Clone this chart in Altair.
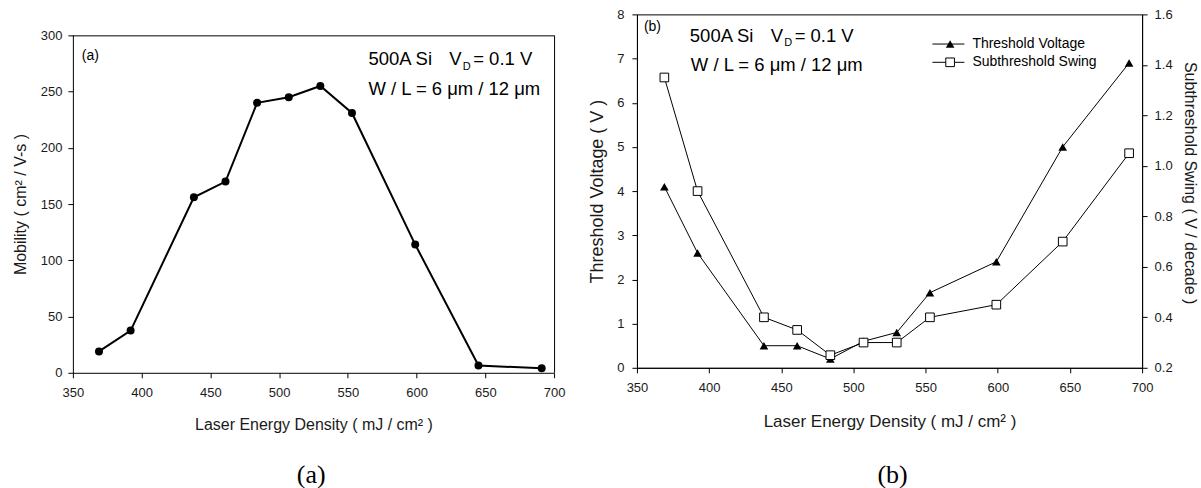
import altair as alt
import pandas as pd

# ---------------- data ----------------
energy = [369, 392, 438, 461, 484, 507, 530, 553, 599, 645, 691]
mobility = [19, 37.5, 156, 170, 240, 245, 255, 231, 114, 6.5, 4]
threshold_voltage = [4.1, 2.6, 0.5, 0.5, 0.2, 0.6, 0.8, 1.7, 2.4, 5.0, 6.9]
subthreshold_swing = [1.35, 0.9, 0.4, 0.35, 0.25, 0.3, 0.3, 0.4, 0.45, 0.7, 1.05]
x_tick_values = [350, 400, 450, 500, 550, 600, 650, 700]
mobility_ticks = [0, 50, 100, 150, 200, 250, 300]
vth_ticks = [0, 1, 2, 3, 4, 5, 6, 7, 8]
swing_ticks = [0.2, 0.4, 0.6, 0.8, 1.0, 1.2, 1.4, 1.6]
legend_names = ["Threshold Voltage", "Subthreshold Swing"]

SANS = "Liberation Sans"
SERIF = "Liberation Serif"
INK = "#000000"
LABEL = "#1a1a1a"

# ---------------- layout ----------------
# both panels share the same origin row (y = 13); panel (a) plot starts 21px lower
TOP = 13
A_OFF = 21
W_A, H_A, OX_A = 482, 359, 73
W_B, H_B, OX_B = 506, 354, 637
SPLIT = 580
TOTAL_W, TOTAL_H = 1201, 488

df_a = pd.DataFrame({"energy": energy, "mobility": mobility})
df_b = pd.DataFrame({"energy": energy, "vth": threshold_voltage,
                     "swing": subthreshold_swing})


def axis_common(**kw):
    base = dict(domainColor=INK, domainWidth=1, tickColor=INK, tickSize=5,
                tickWidth=1, labelFont=SANS, labelFontSize=13, labelColor=LABEL,
                labelFlush=False, labelOverlap=False, titleFont=SANS,
                titleFontSize=16, titleFontWeight="normal", titleColor=LABEL,
                titleAlign="center", titleBaseline="middle", grid=False)
    base.update(kw)
    return alt.Axis(**base)


def x_enc(width, title_y, title_size):
    return alt.X("energy:Q",
                 scale=alt.Scale(domain=[350, 700], nice=False, zero=False),
                 axis=axis_common(values=x_tick_values,
                                  title="Laser Energy Density ( mJ / cm² )",
                                  labelPadding=9, titleAngle=0,
                                  titleFontSize=title_size,
                                  titleX=width / 2, titleY=title_y))


def text_layer(txt, x, y, size=18.5, font=SANS, align="left",
               baseline="alphabetic"):
    return alt.Chart(pd.DataFrame({"t": [txt]})).mark_text(
        font=font, fontSize=size, align=align, baseline=baseline, color=INK
    ).encode(x=alt.value(x), y=alt.value(y), text="t:N")


def spacer(x1, y1, x2, y2):
    return alt.Chart(pd.DataFrame({"k": [0]})).mark_rule(
        opacity=0, strokeOpacity=0
    ).encode(x=alt.value(x1), x2=alt.value(x2), y=alt.value(y1),
             y2=alt.value(y2))


def frame_rule(x1, y1, x2, y2):
    return alt.Chart(pd.DataFrame({"k": [0]})).mark_rule(
        color=INK, strokeWidth=1
    ).encode(x=alt.value(x1), x2=alt.value(x2), y=alt.value(y1),
             y2=alt.value(y2))


# ---------------- panel (a) ----------------
xa = x_enc(W_A, 51.5, 16)
ya = alt.Y("mobility:Q",
           scale=alt.Scale(domain=[0, 300], nice=False, zero=False,
                           range=[H_A, A_OFF]),
           axis=axis_common(values=mobility_ticks, title="Mobility ( cm² / V-s )",
                            labelPadding=6, titleAngle=-90, titleX=-52,
                            titleY=(H_A + A_OFF) / 2))
base_a = alt.Chart(df_a)
line_a = base_a.mark_line(color=INK, strokeWidth=2).encode(x=xa, y=ya)
pts_a = base_a.mark_point(shape="circle", filled=True, size=64, color=INK,
                          opacity=1).encode(x=xa, y=ya)

panel_a = alt.layer(
    spacer(-OX_A, -TOP, SPLIT - OX_A, TOTAL_H - TOP),
    frame_rule(0, A_OFF + 0.5, W_A, A_OFF + 0.5),
    frame_rule(W_A + 0.5, A_OFF, W_A + 0.5, H_A),
    line_a, pts_a,
    text_layer("(a)", 9, A_OFF + 21, size=14, baseline="middle"),
    text_layer("500A Si", 296, A_OFF + 30),
    text_layer("V", 377, A_OFF + 30),
    text_layer("D", 390.5, A_OFF + 34.5, size=11),
    text_layer("= 0.1 V", 401, A_OFF + 30),
    text_layer("W / L = 6 μm / 12 μm", 296, A_OFF + 59.3),
    text_layer("(a)", 238.7, 469, size=26, font=SERIF, align="center"),
).properties(width=W_A, height=H_A,
             view=alt.ViewBackground(strokeOpacity=0))

# ---------------- panel (b) ----------------
xb = x_enc(W_B, 54, 17)
yb_left = alt.Y("vth:Q", scale=alt.Scale(domain=[0, 8], nice=False, zero=False),
                axis=axis_common(values=vth_ticks, title="Threshold Voltage ( V )",
                                 labelPadding=8, titleAngle=-90, titleX=-39,
                                 titleFontSize=18, titleY=H_B / 2))
yb_right = alt.Y("swing:Q",
                 scale=alt.Scale(domain=[0.2, 1.6], nice=False, zero=False),
                 axis=axis_common(values=swing_ticks, format=".1f", orient="right",
                                  title="Subthreshold Swing ( V / decade )",
                                  labelPadding=7, titleAngle=90, titleX=47,
                                  titleFontSize=16, titleY=168.5))
base_b = alt.Chart(df_b)
vth_layer = alt.layer(
    base_b.mark_line(color=INK, strokeWidth=1).encode(x=xb, y=yb_left),
    base_b.mark_point(shape="triangle-up", filled=True, size=75, color=INK,
                      opacity=1).encode(x=xb, y=yb_left),
)
swing_layer = alt.layer(
    base_b.mark_line(color=INK, strokeWidth=1).encode(x=xb, y=yb_right),
    base_b.mark_point(shape="square", filled=True, fill="white", stroke=INK,
                      strokeWidth=1, size=75, opacity=1).encode(x=xb, y=yb_right),
)

leg_rows = [29.7, 48]
legend_parts = []
for i, name in enumerate(legend_names):
    yy = leg_rows[i]
    legend_parts.append(
        alt.Chart(pd.DataFrame({"n": [name]})).mark_rule(color=INK, strokeWidth=1)
        .encode(x=alt.value(296), x2=alt.value(328), y=alt.value(yy)))
    if i == 0:
        legend_parts.append(
            alt.Chart(pd.DataFrame({"n": [name]})).mark_point(
                shape="triangle-up", filled=True, size=75, color=INK, opacity=1)
            .encode(x=alt.value(313.7), y=alt.value(yy)))
    else:
        legend_parts.append(
            alt.Chart(pd.DataFrame({"n": [name]})).mark_point(
                shape="square", filled=True, fill="white", stroke=INK,
                strokeWidth=1, size=75, opacity=1)
            .encode(x=alt.value(313.7), y=alt.value(yy)))
    legend_parts.append(text_layer(name, 336, yy, size=14, baseline="middle"))

panel_b = alt.layer(
    spacer(SPLIT - OX_B, -TOP, TOTAL_W - OX_B, TOTAL_H - TOP),
    vth_layer, swing_layer,
    text_layer("(b)", 7, 12.7, size=14, baseline="middle"),
    text_layer("500A Si", 53, 27.3),
    text_layer("V", 134, 27.3),
    text_layer("D", 147.5, 31.8, size=11),
    text_layer("= 0.1 V", 158, 27.3),
    text_layer("W / L = 6 μm / 12 μm", 54, 56.3),
    text_layer("(b)", 256, 469, size=26, font=SERIF, align="center"),
    *legend_parts,
).resolve_scale(y="independent").properties(width=W_B, height=H_B)

chart = alt.hconcat(panel_a, panel_b, spacing=0).properties(
    padding=0, background="white"
).configure_view(stroke=INK, strokeWidth=1)

chart.save("out.html", embed_options={"renderer": "svg", "actions": False})
